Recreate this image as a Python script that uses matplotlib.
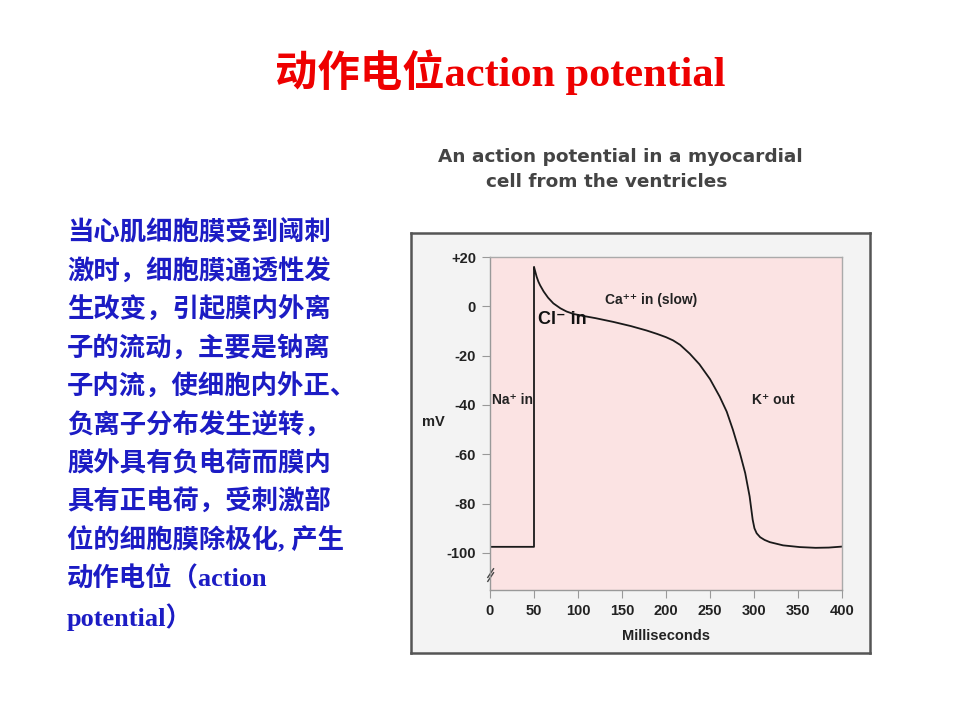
import matplotlib
matplotlib.use("Agg")
import matplotlib.pyplot as plt

# ---- data ----
time_ms = [0, 50, 50, 51.5, 53, 55, 57, 61, 66, 72, 80, 87, 95, 106, 120, 140, 160, 178,
           190, 200, 208, 216, 227, 238, 250, 261, 269, 276, 284, 290, 295, 298.5, 300.5,
           303, 307, 312, 318, 333, 352, 370, 385, 400]
voltage_mv = [-97.5, -97.5, 16, 14, 12, 10, 8.5, 6, 3.5, 1.2, -0.8, -2.1, -3.1, -3.9, -4.8,
              -6.3, -8, -9.8, -11.2, -12.5, -13.8, -15.6, -19.2, -23.5, -29.5, -36.6, -42.7,
              -50, -59.5, -67.6, -77, -86.5, -90, -92, -93.6, -94.7, -95.6, -96.9, -97.6,
              -97.9, -97.8, -97.4]
x_ticks = [0, 50, 100, 150, 200, 250, 300, 350, 400]
y_ticks = [20, 0, -20, -40, -60, -80, -100]
y_tick_labels = ["+20", "0", "-20", "-40", "-60", "-80", "-100"]

title_text = "动作电位action potential"
subtitle_1 = "An action potential in a myocardial"
subtitle_2 = "cell from the ventricles"
body_lines = [
    "当心肌细胞膜受到阈刺",
    "激时，细胞膜通透性发",
    "生改变，引起膜内外离",
    "子的流动，主要是钠离",
    "子内流，使细胞内外正、",
    "负离子分布发生逆转，",
    "膜外具有负电荷而膜内",
    "具有正电荷，受刺激部",
    "位的细胞膜除极化, 产生",
    "动作电位（action",
    "potential）",
]
annotations = [
    ("Na⁺ in", 2, -38),
    ("Ca⁺⁺ in (slow)", 131, 2.6),
    ("K⁺ out", 298, -38),
]

W, H = 960, 720
fig = plt.figure(figsize=(9.6, 7.2), dpi=100)
fig.patch.set_facecolor("white")

def fx(px):
    return px / W

def fy(py):
    return 1 - py / H

serif_cjk = ["Liberation Serif", "Noto Sans CJK SC"]
chart_font = ["Liberation Sans Narrow", "Liberation Sans", "DejaVu Sans"]

# title
fig.text(fx(500), fy(72), title_text, color="#ee0000", fontsize=30.5, fontweight="bold",
         family=serif_cjk, ha="center", va="center")

# subtitle
fig.text(fx(620), fy(157), subtitle_1, color="#444444", fontsize=13.3, fontweight="bold",
         family=["DejaVu Sans"], ha="center", va="center")
fig.text(fx(607), fy(182), subtitle_2, color="#444444", fontsize=13.3, fontweight="bold",
         family=["DejaVu Sans"], ha="center", va="center")

# left body text
for i, line in enumerate(body_lines):
    fig.text(fx(67), fy(233 + i * 38.4), line, color="#1c1cc4", fontsize=19,
             fontweight="bold", family=serif_cjk, ha="left", va="center")

# frame (as a background axes)
frame = fig.add_axes([fx(411), fy(653), fx(870) - fx(411), fy(233) - fy(653)], zorder=0)
frame.set_facecolor("#f3f3f3")
frame.set_xticks([])
frame.set_yticks([])
for s in frame.spines.values():
    s.set_color("#555555")
    s.set_linewidth(1.8)

# axes
ax = fig.add_axes([fx(490), fy(590), fx(842) - fx(490), fy(257) - fy(590)], zorder=2)
ax.set_facecolor("#fbe3e3")
ax.plot(time_ms, voltage_mv, color="#1a1a1a", linewidth=1.3, solid_joinstyle="round")
ax.set_xlim(0, 400)
ax.set_ylim(-115, 20)
ax.set_xticks(x_ticks)
ax.set_yticks(y_ticks)
ax.set_yticklabels(y_tick_labels)
for lab in ax.get_xticklabels() + ax.get_yticklabels():
    lab.set_family(chart_font)
    lab.set_fontweight("bold")
    lab.set_fontsize(10.5)
    lab.set_color("#222222")
ax.tick_params(axis="both", direction="out", length=6, width=0.8, color="#999999", pad=4)
for s in ax.spines.values():
    s.set_color("#aaaaaa")
    s.set_linewidth(1.0)
ax.spines["left"].set_color("#999999")
ax.spines["bottom"].set_color("#999999")

ax.set_ylabel("mV", rotation=0, family=chart_font, fontweight="bold", fontsize=10.5,
              color="#222222", ha="center", va="center")
ax.yaxis.set_label_coords((fx(433) - fx(490)) / (fx(842) - fx(490)),
                          (fy(422) - fy(590)) / (fy(257) - fy(590)))
ax.set_xlabel("Milliseconds", family=chart_font, fontweight="bold", fontsize=10.5,
              color="#222222", labelpad=8)

for txt, xv, yv in annotations:
    ax.text(xv, yv, txt, family=chart_font, fontweight="bold", fontsize=10,
            color="#222222", ha="left", va="center")
ax.text(54, -5.5, "Cl⁻ in", family=["Liberation Sans", "DejaVu Sans"], fontweight="bold",
        fontsize=13, color="#111111", ha="left", va="center")

# axis break mark
for dy in (0, 1.6):
    ax.plot([-2.5, 4], [-111.5 + dy, -108 + dy], color="#444444", linewidth=1.0,
            clip_on=False)

fig.savefig("out.png", dpi=100)
